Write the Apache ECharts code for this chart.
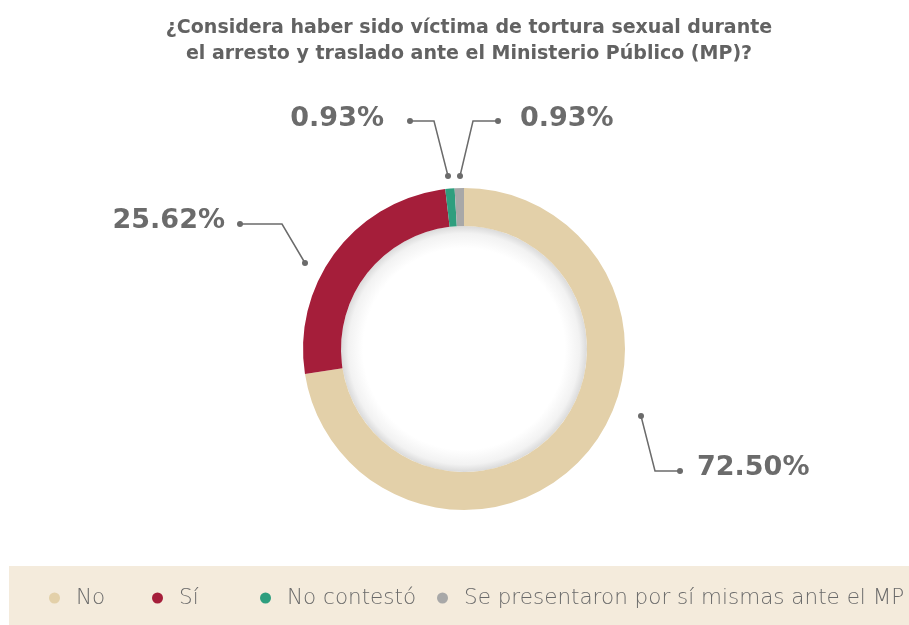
<!DOCTYPE html>
<html>
<head>
<meta charset="utf-8">
<script src="https://cdn.jsdelivr.net/npm/echarts@6/dist/echarts.min.js"></script>
<style>
html,body{margin:0;padding:0;background:#fff;}
#chart{width:909px;height:625px;}
</style>
</head>
<body>
<div id="chart"></div>
<script>
// ---- data ----
const categories = ['No', 'Sí', 'No contestó', 'Se presentaron por sí mismas ante el MP'];
const values = [72.50, 25.62, 0.93, 0.93];
const labelTexts = ['72.50%', '25.62%', '0.93%', '0.93%'];
const titleText = '¿Considera haber sido víctima de tortura sexual durante\nel arresto y traslado ante el Ministerio Público (MP)?';

// ---- style ----
const colors = ['#E3D0A9', '#A51E3A', '#2E9E7E', '#A8A8A8'];
const CX = 464, CY = 349, R_IN = 123, R_OUT = 161;
const INK = '#6b6b6b';
// label leader layout (start, elbow, end, text anchor, align)
const leader = [
  {p: [[641,416],[655,471],[680,471]], t:[697,468], align:'left'},
  {p: [[305,263],[282,224],[240,224]], t:[225,221], align:'right'},
  {p: [[448,176],[434,121],[410,121]], t:[384,119], align:'right'},
  {p: [[460,176],[473,121],[498,121]], t:[520,119], align:'left'}
];
const legendLeft = [44, 147, 255, 432];

const chart = echarts.init(document.getElementById('chart'), null, {renderer:'canvas'});

const graphics = [
  {type:'rect', z:0, shape:{x:9, y:566, width:900, height:59}, style:{fill:'#F4EBDC'}},
  {type:'text', z:10, style:{text:titleText, x:469, y:15, textAlign:'center', textVerticalAlign:'top',
     font:'bold 19px "DejaVu Sans"', lineHeight:26, fill:'#626262'}},
  {type:'circle', z:1, shape:{cx:CX, cy:CY, r:R_IN}, style:{
     fill:{type:'radial', x:0.5, y:0.5, r:0.5, colorStops:[
       {offset:0, color:'#ffffff'}, {offset:0.82, color:'#ffffff'}, {offset:0.94, color:'#f2f2f2'}, {offset:1, color:'#dadada'}]}}}
];
leader.forEach(function(l){
  [l.p[0], l.p[2]].forEach(function(pt){
    graphics.push({type:'circle', z:20, shape:{cx:pt[0], cy:pt[1], r:3}, style:{fill:INK}});
  });
});

const legends = categories.map(function(c, i){
  return {
    data:[c], left: legendLeft[i], top: 582, orient:'horizontal',
    icon:'circle', itemWidth:33, itemHeight:11, selectedMode:false,
    textStyle:{fontFamily:'"DejaVu Sans"', fontWeight:300, fontSize:21.5, color:'#6a6a6a', lineHeight:22}
  };
});

chart.setOption({
  animation:false,
  color: colors,
  graphic: graphics,
  legend: legends,
  series:[{
    type:'pie',
    center:[CX, CY],
    radius:[R_IN, R_OUT],
    startAngle:90,
    clockwise:true,
    silent:true,
    avoidLabelOverlap:false,
    data: categories.map(function(c,i){ return {name:c, value:values[i]}; }),
    label:{
      show:true,
      formatter: function(p){ return labelTexts[p.dataIndex]; },
      fontFamily:'"DejaVu Sans"', fontWeight:'bold', fontSize:27, color:INK
    },
    labelLine:{show:true, smooth:false, lineStyle:{color:INK, width:1.5}},
    labelLayout: function(params){
      const l = leader[params.dataIndex];
      return {x:l.t[0], y:l.t[1], align:l.align, verticalAlign:'middle', labelLinePoints:l.p};
    },
    emphasis:{disabled:true}
  }]
});
</script>
</body>
</html>
